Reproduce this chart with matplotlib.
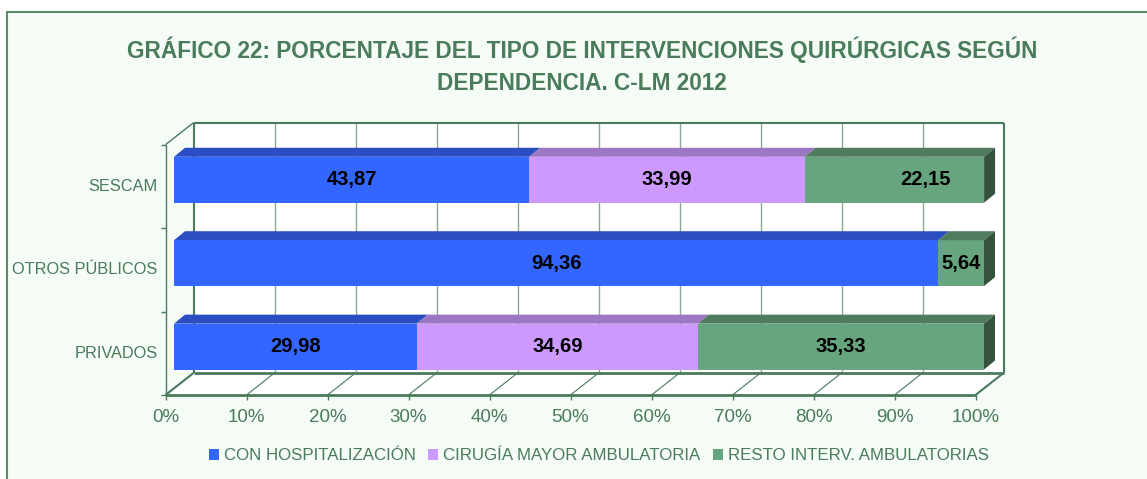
import matplotlib.pyplot as plt
import numpy as np
from matplotlib.patches import Polygon, Rectangle

plt.rcParams['font.family'] = ['Liberation Sans', 'DejaVu Sans']

# data
categories = ['PRIVADOS', 'OTROS PÚBLICOS', 'SESCAM']
con_hosp = [29.98, 94.36, 43.87]
cma = [34.69, 0.0, 33.99]
resto = [35.33, 5.64, 22.15]
series_names = ['CON HOSPITALIZACIÓN', 'CIRUGÍA MAYOR AMBULATORIA', 'RESTO INTERV. AMBULATORIAS']
xticks = np.arange(0, 101, 10)
title = ('GRÁFICO 22: PORCENTAJE DEL TIPO DE INTERVENCIONES QUIRÚRGICAS SEGÚN\n'
         'DEPENDENCIA. C-LM 2012')

# styles
front_cols = ['#3366FF', '#CC99FF', '#67A57F']
top_cols = ['#2A4EC2', '#9E77C4', '#4F7B5F']
side_cols = ['#2440A0', '#7E5FA0', '#35523F']
txt_green = '#4A7C5B'
dark_green = '#4A7A5C'
grid_green = '#8AA896'
bg = '#F5FBF5'

W, H = 1147, 479
fig = plt.figure(figsize=(W / 100, H / 100), dpi=100, facecolor='white')
fig.add_artist(Rectangle((7 / W, -0.1), 1.2, 1.1 - 12 / H, transform=fig.transFigure,
                         facecolor=bg, edgecolor='#5A8A6A', lw=1.5, zorder=0))

ax = fig.add_axes([174 / W, (H - 388.3) / H, 810 / W, 250.3 / H])
ax.set_xlim(0, 100)
ax.set_ylim(-0.5, 2.5)
ax.axis('off')

FRONT = (-8.5, -6.7)   # pixel shift bar plane -> front plane
BACK = (19.5, 15.3)    # pixel shift bar plane -> back wall
DEP = (11.0, 9.0)      # bar depth


def px(x, y, d=(0, 0), extra=(0, 0)):
    X, Y = ax.transData.transform((x, y))
    return ax.transData.inverted().transform((X + d[0] + extra[0], Y + d[1] + extra[1]))


def line(p, q, **kw):
    ax.plot([p[0], q[0]], [p[1], q[1]], clip_on=False, solid_capstyle='butt', **kw)


y0, y1 = -0.5, 2.5
# back wall
ax.add_patch(Polygon([px(0, y0, BACK), px(100, y0, BACK), px(100, y1, BACK), px(0, y1, BACK)],
                     closed=True, facecolor='white', edgecolor='none', zorder=1, clip_on=False))
for t in xticks[1:-1]:
    line(px(t, y0, BACK), px(t, y1, BACK), color=grid_green, lw=1.0, zorder=1.5)
line(px(0, y0, BACK), px(0, y1, BACK), color=dark_green, lw=1.5, zorder=1.6)
line(px(0, y1, BACK), px(100, y1, BACK), color=dark_green, lw=1.5, zorder=1.6)
line(px(100, y1, BACK), px(100, y0, BACK), color=dark_green, lw=1.5, zorder=1.6)

# floor
ax.add_patch(Polygon([px(0, y0, FRONT), px(100, y0, FRONT), px(100, y0, BACK), px(0, y0, BACK)],
                     closed=True, facecolor='white', edgecolor='none', zorder=1, clip_on=False))
for t in xticks:
    lw = 1.5 if t in (0, 100) else 0.8
    line(px(t, y0, FRONT), px(t, y0, BACK), color=dark_green, lw=lw, zorder=1.6)
    line(px(t, y0, FRONT), px(t, y0, FRONT, (0, -5)), color=dark_green, lw=1.0, zorder=1.6)
    ax.text(*px(t, y0, FRONT, (0, -23)), f'{t}%', ha='center', va='center',
            fontsize=13.5, color=txt_green)
line(px(0, y0, BACK), px(100, y0, BACK), color=dark_green, lw=2.0, zorder=1.6)
line(px(0, y0, FRONT), px(100, y0, FRONT), color=dark_green, lw=2.0, zorder=1.6)

# left wall
line(px(0, y0, FRONT), px(0, y1, FRONT), color=dark_green, lw=1.0, zorder=1.6)
line(px(0, y1, FRONT), px(0, y1, BACK), color=dark_green, lw=1.0, zorder=1.6)
for yb in np.arange(y0, y1 + 0.01, 1.0):
    line(px(0, yb, FRONT, (-5, 0)), px(0, yb, FRONT), color=dark_green, lw=1.0, zorder=1.6)

ypos = np.arange(len(categories))
for i, c in enumerate(categories):
    ax.text(*px(0, i, FRONT, (-8, 0)), c, ha='right', va='center', fontsize=11.8, color=txt_green)

# bars
bh = 0.55
series = [con_hosp, cma, resto]
lefts = np.zeros(len(categories))
handles = []
label_shift = {(2, 2): 31}
for s, vals in enumerate(series):
    vals = np.array(vals)
    cont = ax.barh(ypos, vals, left=lefts, height=bh, color=front_cols[s], zorder=3)
    handles.append(cont)
    for i, v in enumerate(vals):
        if v <= 0:
            continue
        L, R = lefts[i], lefts[i] + v
        T, B = ypos[i] + bh / 2, ypos[i] - bh / 2
        ax.add_patch(Polygon([px(L, T), px(R, T), px(R, T, DEP), px(L, T, DEP)], closed=True,
                             facecolor=top_cols[s], edgecolor='none', zorder=3, clip_on=False))
        if s == len(series) - 1:
            ax.add_patch(Polygon([px(R, B), px(R, T), px(R, T, DEP), px(R, B, DEP)], closed=True,
                                 facecolor=side_cols[s], edgecolor='none', zorder=3, clip_on=False))
        lx, ly = px((L + R) / 2, ypos[i], (label_shift.get((s, i), 0), 0))
        ax.text(lx, ly, f'{v:.2f}'.replace('.', ','), ha='center', va='center',
                fontsize=14.5, fontweight='bold', color='black', zorder=5)
    lefts = lefts + vals

fig.legend(handles, series_names, loc='center', bbox_to_anchor=(599 / W, 1 - 456 / H), ncol=3,
           frameon=False, fontsize=12.2, labelcolor=txt_green, handlelength=0.6, handleheight=0.6,
           handletextpad=0.3, columnspacing=0.7)

fig.text(582 / W, 1 - 66 / H, title, ha='center', va='center', fontsize=16.3, fontweight='bold',
         color=txt_green, linespacing=1.5)

fig.savefig('out.png', dpi=100, facecolor='white')
